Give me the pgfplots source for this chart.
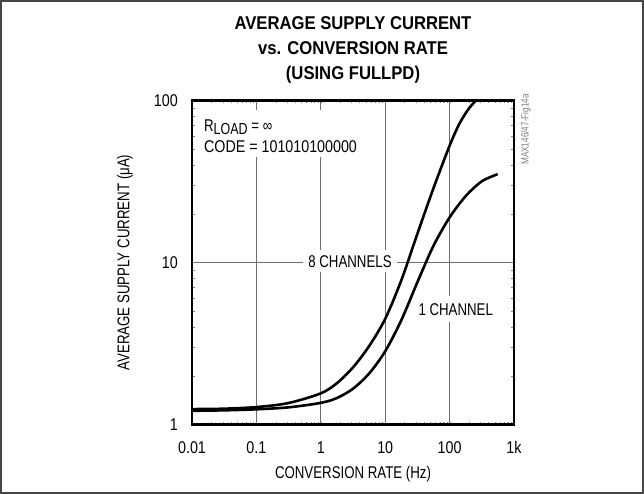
\documentclass[border=0pt]{standalone}
\usepackage{fontspec}
\setmainfont{Liberation Sans}[FakeStretch=0.78]
\newfontfamily\nfont{Liberation Sans}[FakeStretch=0.84]
\newfontfamily\titlefont{Liberation Sans}[FakeStretch=0.9]
\usepackage{pgfplots}
\pgfplotsset{compat=1.18}
\definecolor{gridgray}{RGB}{110,110,110}
\definecolor{framegray}{RGB}{70,70,70}
\begin{document}
\begin{tikzpicture}
\draw[line width=2pt, framegray] (-191pt,-68.5pt) rectangle (451pt,423.5pt);
\begin{axis}[
  name=ax,
  at={(0pt,0pt)}, anchor=south west,
  scale only axis, width=322pt, height=324pt,
  xmode=log, ymode=log,
  xmin=0.01, xmax=1000, ymin=1, ymax=100,
  xtick={0.01,0.1,1,10,100,1000}, xticklabels={0.01,0.1,1,10,100,1k},
  ytick={1,10,100}, yticklabels={1,10,100},
  minor xtick={}, minor ytick={},
  major tick length=0pt,
  xmajorgrids, ymajorgrids,
  major grid style={line width=0.9pt, draw=gridgray},
  axis line style={line width=2.6pt},
  /pgf/number format/assume math mode=true,
  tick label style={font=\nfont\fontsize{17}{17}\selectfont, inner sep=0pt},
  xticklabel style={anchor=center, yshift=-23.3pt},
  yticklabel style={anchor=east, xshift=-14pt},
  xlabel={CONVERSION RATE (Hz)},
  ylabel={AVERAGE SUPPLY CURRENT (μA)},
  label style={font=\fontsize{17}{17}\selectfont},
  xlabel style={at={(axis description cs:0.5,-0.153)}, anchor=center},
  ylabel style={at={(axis description cs:-0.208,0.5)}, anchor=center},
]
\fill[white] (rel axis cs:0.025,0.825) rectangle (rel axis cs:0.545,0.972);
\addplot[line width=2.6pt, smooth, black] coordinates {
(0.01,1.245) (0.0316,1.252) (0.1,1.281) (0.316,1.357) (1,1.557) (1.778,1.799)
(3.162,2.252) (5.623,3.046) (10,4.49) (17.78,7.76) (31.62,15.05) (56.23,28.77)
(100,52.6) (141.3,71.6) (199.5,89.3) (281.8,103.9)
};
\addplot[line width=2.6pt, smooth, black] coordinates {
(0.01,1.215) (0.0316,1.223) (0.1,1.241) (0.316,1.276) (1,1.360) (1.778,1.457)
(3.162,1.663) (5.623,2.064) (10,2.832) (17.78,4.40) (31.62,7.56) (56.23,12.69)
(100,18.98) (177.8,25.7) (316.2,31.7) (558,35.1)
};
\node[fill=white, inner xsep=5pt, inner ysep=5pt, font=\fontsize{17}{17}\selectfont] at (rel axis cs:0.4907,0.504) {8 CHANNELS};
\node[fill=white, inner xsep=4pt, inner ysep=7pt, font=\fontsize{17}{17}\selectfont] at (rel axis cs:0.819,0.355) {1 CHANNEL};
\node[anchor=base west, inner sep=0pt, font=\fontsize{17}{17}\selectfont] at (rel axis cs:0.037,0.905) {R\raisebox{-3.5pt}{\fontsize{16}{16}\selectfont LOAD} = ∞};
\node[anchor=base west, inner sep=0pt, font=\nfont\fontsize{17}{17}\selectfont] at (rel axis cs:0.037,0.838) {CODE = 101010100000};
\end{axis}
\draw[line width=2.6pt] (ax.south west) rectangle (ax.north east);
\node[align=center, font=\titlefont\bfseries\fontsize{18.5}{25}\selectfont] at (161pt,375pt) {AVERAGE SUPPLY CURRENT\\vs. CONVERSION RATE\\(USING FULLPD)};
\node[rotate=90, font=\fontsize{10.5}{10.5}\selectfont, text=gray] at (334pt,295pt) {MAX146/47-Fig14a};
\end{tikzpicture}
\end{document}
